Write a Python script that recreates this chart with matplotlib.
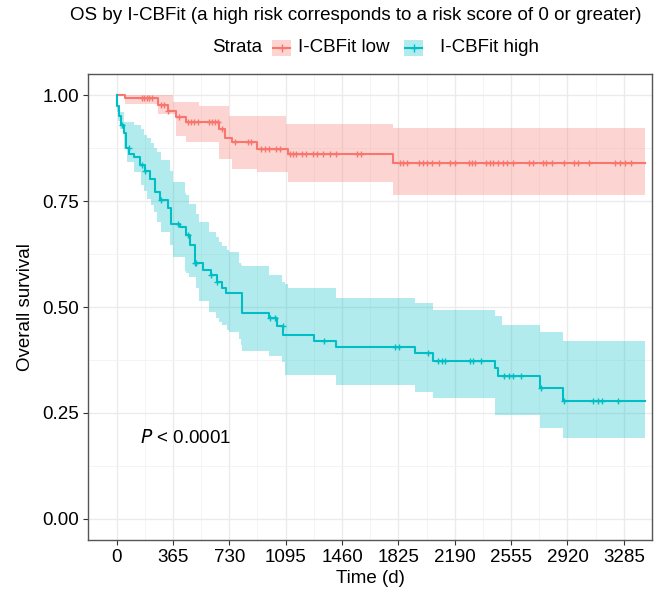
import numpy as np
import matplotlib
matplotlib.use("Agg")
import matplotlib.pyplot as plt
from matplotlib.patches import Rectangle
from matplotlib.lines import Line2D

plt.rcParams['font.family'] = ['Liberation Sans', 'DejaVu Sans']

t_end = 3420

# I-CBFit low : survival steps
low_t = [0, 57, 270, 330, 387, 451, 665, 700, 749, 910, 1110, 1790]
low_s = [1.0, 0.994, 0.976, 0.962, 0.948, 0.936, 0.92, 0.90, 0.889, 0.874, 0.862, 0.841]
# confidence band
low_ci_t = [0, 57, 270, 366, 387, 451, 536, 665, 727, 749, 910, 1100, 1110, 1790]
low_hi = [1.0, 1.0, 1.0, 0.984, 0.984, 0.984, 0.975, 0.975, 0.951, 0.951, 0.951, 0.932, 0.932, 0.923]
low_lo = [1.0, 0.98, 0.956, 0.956, 0.904, 0.889, 0.889, 0.85, 0.85, 0.826, 0.819, 0.819, 0.795, 0.764]
low_cens = [165, 180, 195, 210, 230, 290, 310, 330, 405, 465, 480, 500, 530, 600, 620, 640, 660,
            680, 766, 851, 870, 936, 960, 990, 1030, 1060, 1120, 1140, 1165, 1200, 1230, 1270,
            1300, 1340, 1380, 1420, 1557, 1580, 1835, 1855, 1880, 1960, 1985, 2010, 2040, 2090,
            2160, 2190, 2280, 2300, 2320, 2390, 2420, 2440, 2470, 2500, 2530, 2570, 2670, 2700,
            2760, 2780, 2820, 2900, 2960, 2990, 3060, 3230, 3260, 3290, 3330]

# I-CBFit high
high_t = [0, 5, 15, 30, 45, 60, 80, 110, 150, 185, 215, 250, 280, 330, 355, 410, 450, 475, 505,
          560, 610, 650, 685, 710, 815, 985, 1040, 1080, 1280, 1420, 1930, 2050, 2450, 2470,
          2745, 2890]
high_s = [1.0, 0.975, 0.95, 0.93, 0.91, 0.875, 0.862, 0.855, 0.835, 0.82, 0.803, 0.772, 0.752,
          0.733, 0.695, 0.69, 0.67, 0.646, 0.603, 0.587, 0.576, 0.56, 0.544, 0.532, 0.487, 0.475,
          0.455, 0.435, 0.419, 0.405, 0.391, 0.373, 0.355, 0.336, 0.309, 0.278]
high_ci_t = [0, 5, 12, 20, 50, 70, 115, 155, 175, 200, 220, 240, 260, 290, 345, 365, 440, 450,
             470, 515, 535, 600, 645, 665, 685, 715, 730, 790, 805, 815, 985, 1070, 1090, 1110,
             1420, 1930, 2050, 2450, 2495, 2745, 2890]
high_hi = [1.0, 0.983, 0.976, 0.96, 0.937, 0.937, 0.93, 0.92, 0.905, 0.9, 0.886, 0.876, 0.866,
           0.846, 0.82, 0.795, 0.77, 0.764, 0.744, 0.72, 0.701, 0.678, 0.665, 0.654, 0.645, 0.635,
           0.631, 0.603, 0.6, 0.597, 0.576, 0.56, 0.555, 0.545, 0.522, 0.509, 0.493, 0.478, 0.458,
           0.442, 0.419]
high_lo = [1.0, 0.96, 0.94, 0.92, 0.874, 0.842, 0.819, 0.787, 0.775, 0.756, 0.74, 0.725, 0.701,
           0.678, 0.646, 0.619, 0.584, 0.58, 0.57, 0.544, 0.513, 0.489, 0.474, 0.465, 0.458, 0.446,
           0.44, 0.425, 0.411, 0.395, 0.384, 0.37, 0.34, 0.34, 0.317, 0.30, 0.285, 0.246, 0.246,
           0.215, 0.19]
high_cens = [36, 79, 164, 185, 290, 400, 460, 505, 515, 611, 650, 994, 1025, 1078, 1345, 1800,
             1830, 2020, 2080, 2105, 2130, 2290, 2310, 2360, 2510, 2540, 2570, 2620, 2750, 2895,
             3085, 3115, 3145, 3250]

red = '#F8766D'
teal = '#00BFC4'

x_ticks = [0, 365, 730, 1095, 1460, 1825, 2190, 2555, 2920, 3285]
y_ticks = [0.0, 0.25, 0.5, 0.75, 1.0]
fs = 13.5


def surv_at(tt, ss, times):
    idx = np.searchsorted(tt, times, side='right') - 1
    return np.array(ss)[idx]


fig = plt.figure(figsize=(6.57, 5.91), dpi=100)
fig.patch.set_facecolor('white')
ax = fig.add_axes([88 / 657, 1 - 540 / 591, (652 - 88) / 657, (540 - 74) / 591])

curves = [
    (low_t, low_s, low_ci_t, low_lo, low_hi, low_cens, red),
    (high_t, high_s, high_ci_t, high_lo, high_hi, high_cens, teal),
]
for tt, ss, ct, lo, hi, cens, col in curves:
    ax.fill_between(ct + [t_end], lo + [lo[-1]], hi + [hi[-1]], step='post',
                    color=col, alpha=0.3, linewidth=0, zorder=2)
    ax.step(tt + [t_end], ss + [ss[-1]], where='post', color=col, lw=1.5, zorder=3)
    ax.plot(cens, surv_at(tt, ss, cens), '+', color=col, ms=5, mew=1.0, zorder=4)

ax.set_xlim(-185, t_end)
ax.set_ylim(-0.05, 1.05)
ax.set_xticks(x_ticks)
ax.set_yticks(y_ticks)
ax.set_yticklabels(['0.00', '0.25', '0.50', '0.75', '1.00'])
ax.set_xticks([x + 182.5 for x in x_ticks], minor=True)
ax.set_yticks([0.125, 0.375, 0.625, 0.875], minor=True)
ax.grid(which='major', color='#EBEBEB', lw=1.0, zorder=0)
ax.grid(which='minor', color='#F2F2F2', lw=0.6, zorder=0)
ax.set_axisbelow(True)
ax.tick_params(which='major', length=3.5, width=0.8, color='#333333',
               labelsize=fs, labelcolor='black', pad=3)
ax.tick_params(which='minor', length=0)
for sp in ax.spines.values():
    sp.set_color('#555555')
    sp.set_linewidth(1.0)

ax.set_xlabel('Time (d)', fontsize=fs, labelpad=3)
ax.set_ylabel('Overall survival', fontsize=fs, labelpad=6)

ax.text(150, 0.19, r'$\it{P}$ < 0.0001', fontsize=fs, va='center', ha='left')

fig.text(356 / 657, 1 - 16 / 591,
         'OS by I-CBFit (a high risk corresponds to a risk score of 0 or greater)',
         ha='center', va='center', fontsize=fs)

# legend built by hand, in figure pixels
def fx(px):
    return px / 657


def fy(py):
    return 1 - py / 591


ly = 48
fig.text(fx(212), fy(ly), 'Strata', ha='left', va='center', fontsize=fs)
keys = [(272, 298, red, 'I-CBFit low'), (404, 440, teal, 'I-CBFit high')]
for kx, tx, col, lab in keys:
    fig.patches.append(Rectangle((fx(kx), fy(ly + 8)), fx(19), 16 / 591,
                                 transform=fig.transFigure, color=col, alpha=0.3, lw=0))
    fig.lines.append(Line2D([fx(kx + 1), fx(kx + 18)], [fy(ly), fy(ly)],
                            transform=fig.transFigure, color=col, lw=1.5))
    fig.lines.append(Line2D([fx(kx + 9.5)], [fy(ly)], transform=fig.transFigure,
                            color=col, marker='+', ms=6, mew=1.0))
    fig.text(fx(tx), fy(ly), lab, ha='left', va='center', fontsize=fs)

fig.savefig('out.png', dpi=100)
